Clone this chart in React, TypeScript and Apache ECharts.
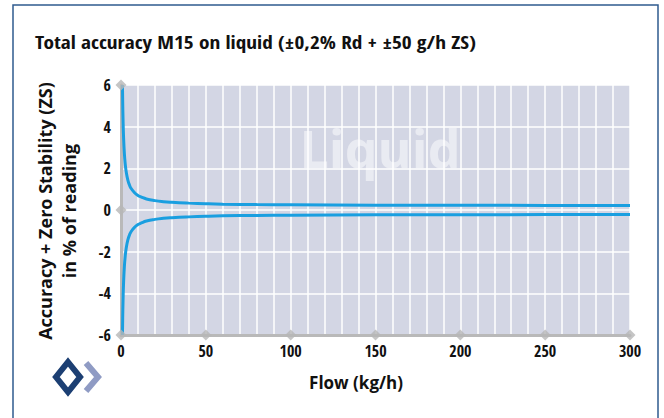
import React, { useEffect, useRef } from "react";
import * as echarts from "echarts";

const flowX = [0.86, 1, 1.2, 1.5, 2, 2.5, 3, 4, 5, 6, 8, 10, 12, 15, 20, 25, 30, 40, 50, 60, 80, 100, 150, 200, 250, 300];
const upperY = [6.0, 5.2, 4.37, 3.53, 2.7, 2.2, 1.87, 1.45, 1.2, 1.03, 0.83, 0.7, 0.62, 0.53, 0.45, 0.4, 0.37, 0.33, 0.3, 0.28, 0.26, 0.25, 0.23, 0.23, 0.22, 0.22];
const lowerY = [-6.0, -5.2, -4.37, -3.53, -2.7, -2.2, -1.87, -1.45, -1.2, -1.03, -0.83, -0.7, -0.62, -0.53, -0.45, -0.4, -0.37, -0.33, -0.3, -0.28, -0.26, -0.25, -0.23, -0.23, -0.22, -0.22];
const yMarkers = [6, 0, -6];
const xMarkers = [50, 100, 150, 200, 250, 300];

const title = "Total accuracy M15 on liquid (±0,2% Rd + ±50 g/h ZS)";
const yName1 = "Accuracy + Zero Stability (ZS)";
const yName2 = "in % of reading";
const xName = "Flow (kg/h)";
const watermark = "Liquid";

const COND = "Open Sans Condensed";
const SANS = "Open Sans";

export default function App() {
  const ref = useRef<HTMLDivElement>(null);
  useEffect(() => {
    if (!ref.current) return;
    const chart = echarts.init(ref.current, null, { renderer: "svg" });
    const markers: number[][] = [
      ...yMarkers.map((v) => [0, v]),
      ...xMarkers.map((v) => [v, -6]),
    ];
    chart.setOption({
      animation: false,
      backgroundColor: "#ffffff",
      grid: { left: 121, right: 34, top: 85, bottom: 83, show: true, backgroundColor: "#d3d6e4", borderWidth: 0 },
      xAxis: {
        type: "value",
        min: 0,
        max: 300,
        interval: 50,
        axisLine: { onZero: false, lineStyle: { color: "#b9b9b9", width: 3 } },
        axisTick: { show: false },
        axisLabel: { fontFamily: COND, fontWeight: "bold", fontSize: 16, color: "#111", margin: 8 },
        splitLine: { show: true, lineStyle: { color: "#ffffff", width: 1.5 } },
        minorTick: { show: false, splitNumber: 5 },
        minorSplitLine: { show: true, lineStyle: { color: "#ffffff", width: 1.5 } },
      },
      yAxis: {
        type: "value",
        min: -6,
        max: 6,
        interval: 2,
        axisLine: { show: true, lineStyle: { color: "#b9b9b9", width: 3 } },
        axisTick: { show: false },
        axisLabel: { fontFamily: COND, fontWeight: "bold", fontSize: 16, color: "#111", margin: 10 },
        splitLine: { show: true, lineStyle: { color: "#ffffff", width: 1.5 } },
      },
      graphic: [
        {
          type: "rect",
          shape: { x: 13, y: 5, width: 645, height: 430 },
          style: { fill: "none", stroke: "#2f5b8f", lineWidth: 1.5 },
          z: 100,
        },
        {
          type: "text",
          x: 35,
          y: 42,
          scaleX: 1.15,
          style: {
            text: title,
            fontFamily: COND,
            fontWeight: "bold",
            fontSize: 18.5,
            fill: "#111",
            textAlign: "left",
            textVerticalAlign: "middle",
          },
        },
        {
          type: "text",
          x: 380,
          y: 147,
          z: 1,
          style: {
            text: watermark,
            fontFamily: SANS,
            fontWeight: "bold",
            fontSize: 52,
            fill: "rgba(255,255,255,0.5)",
            textAlign: "center",
            textVerticalAlign: "middle",
          },
        },
        {
          type: "text",
          x: 45,
          y: 211,
          rotation: Math.PI / 2,
          style: {
            text: yName1,
            fontFamily: SANS,
            fontWeight: "bold",
            fontSize: 18,
            fill: "#111",
            textAlign: "center",
            textVerticalAlign: "middle",
          },
        },
        {
          type: "text",
          x: 69,
          y: 211,
          rotation: Math.PI / 2,
          style: {
            text: yName2,
            fontFamily: SANS,
            fontWeight: "bold",
            fontSize: 18,
            fill: "#111",
            textAlign: "center",
            textVerticalAlign: "middle",
          },
        },
        {
          type: "text",
          x: 356,
          y: 382,
          style: {
            text: xName,
            fontFamily: SANS,
            fontWeight: "bold",
            fontSize: 17,
            fill: "#111",
            textAlign: "center",
            textVerticalAlign: "middle",
          },
        },
        {
          type: "polygon",
          shape: { points: [[68, 362], [80, 377], [68, 392], [56, 377]] },
          style: { fill: "none", stroke: "#1c3f73", lineWidth: 6, lineJoin: "miter" },
        },
        {
          type: "polyline",
          shape: { points: [[86, 363], [98, 377], [86, 391]] },
          style: { fill: "none", stroke: "#8f9bc4", lineWidth: 6, lineJoin: "miter" },
        },
      ],
      series: [
        {
          type: "line",
          data: flowX.map((x, i) => [x, upperY[i]]),
          smooth: true,
          showSymbol: false,
          lineStyle: { color: "#1a9fe0", width: 3 },
          z: 5,
        },
        {
          type: "line",
          data: flowX.map((x, i) => [x, lowerY[i]]),
          smooth: true,
          showSymbol: false,
          lineStyle: { color: "#1a9fe0", width: 3 },
          z: 5,
        },
        {
          type: "scatter",
          data: markers,
          symbol: "diamond",
          symbolSize: 11,
          clip: false,
          itemStyle: { color: "#b7b7b7" },
          z: 6,
        },
      ],
    });
    return () => chart.dispose();
  }, []);
  return <div ref={ref} style={{ width: 664, height: 418, position: "absolute", left: 0, top: 0 }} />;
}
